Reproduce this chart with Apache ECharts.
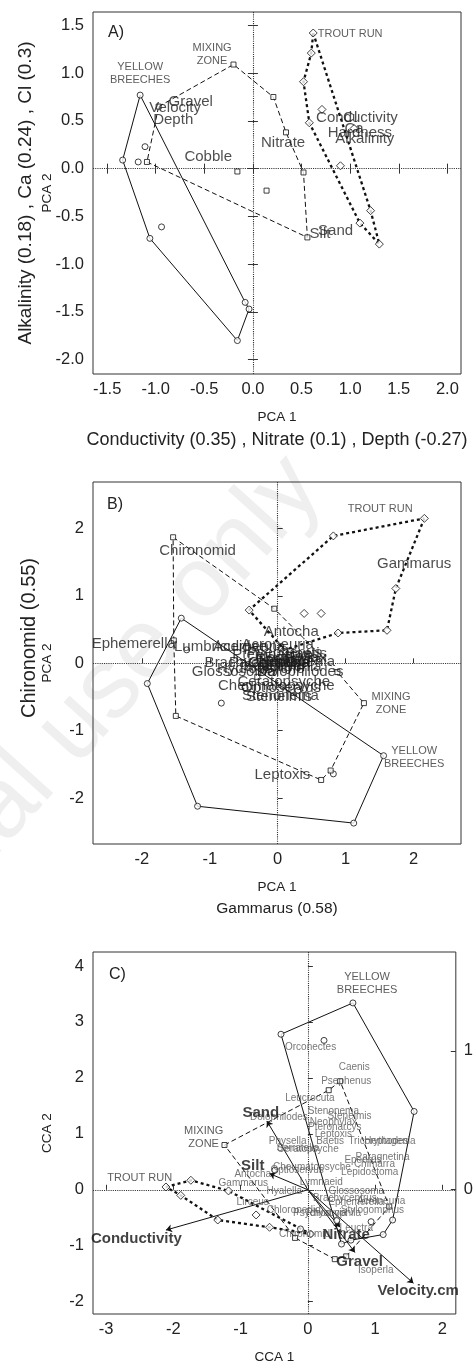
<!DOCTYPE html>
<html><head><meta charset="utf-8">
<script src="https://cdn.jsdelivr.net/npm/echarts@6/dist/echarts.min.js"></script>
<style>html,body{margin:0;padding:0;background:#fff}#c{width:476px;height:1367px}</style>
</head><body><div id="c"></div>
<script>
const FONT = '"Liberation Sans", Arial, Helvetica, sans-serif';

// ---- tick labels ----
const xTicksA = [-1.5,-1.0,-0.5,0,0.5,1.0,1.5,2.0];
const yTicksA = [-2.0,-1.5,-1.0,-0.5,0,0.5,1.0,1.5];
const xTicksB = [-2,-1,0,1,2];
const yTicksB = [-2,-1,0,1,2];
const xTicksC = [-3,-2,-1,0,1,2];
const yTicksC = [-2,-1,0,1,2,3,4];
const yTicksCRight = [0,1];

// ---- Panel A (PCA of environment) ----
const aYBHull = [[-1.16,0.77],[-1.34,0.09],[-1.06,-0.73],[-0.16,-1.80],[-0.04,-1.47],[-0.08,-1.40]];
const aYBInner = [[-1.11,0.23],[-1.18,0.07],[-0.94,-0.61]];
const aMZHull = [[-0.97,0.65],[-0.20,1.09],[0.21,0.75],[0.34,0.38],[0.52,-0.04],[0.56,-0.72],[-1.09,0.07]];
const aMZInner = [[-0.16,-0.03],[0.14,-0.23]];
const aTRHull = [[0.62,1.42],[1.21,-0.44],[1.30,-0.79],[1.10,-0.57],[0.58,0.48],[0.52,0.91],[0.60,1.21]];
const aTRInner = [[0.71,0.62],[0.90,0.03],[1.04,0.42]];
const aVarNames = ['Gravel','Velocity','Depth','Cobble','Nitrate','Conductivity','Cl','Ca','Hardness','Alkalinity','Sand','Silt'];
const aVarPos = [[-0.64,0.70],[-0.80,0.64],[-0.82,0.51],[-0.46,0.12],[0.31,0.27],[1.07,0.53],[1.00,0.53],[1.04,0.42],[1.10,0.37],[1.15,0.31],[0.85,-0.65],[0.69,-0.68]];
const aSiteNames = ['YELLOW\nBREECHES','MIXING\nZONE','TROUT RUN'];
const aSitePos = [[-1.16,1.00],[-0.42,1.20],[1.00,1.405]];

// ---- Panel B (PCA of taxa) ----
const bYBHull = [[-1.42,0.67],[1.56,-1.37],[1.12,-2.37],[-1.18,-2.12],[-1.92,-0.30]];
const bYBInner = [[-0.83,-0.59],[0.82,-1.64],[-1.34,0.20],[-0.48,-0.36],[-0.20,-0.10],[0.30,-0.40]];
const bMZHull = [[-1.54,1.87],[-0.05,0.81],[0.88,-0.13],[1.27,-0.59],[0.78,-1.59],[0.64,-1.73],[-1.50,-0.78],[-1.53,0.34]];
const bMZInner = [[-0.30,-0.20],[0.20,0.05]];
const bTRHull = [[2.16,2.15],[1.74,1.11],[1.61,0.49],[0.89,0.45],[0.10,0.20],[-0.42,0.79],[0.82,1.89]];
const bTRInner = [[0.39,0.74],[0.64,0.74]];
const bSpNames = ['Chironomid','Gammarus','Antocha','Ephemerella','Lumbriculidae','Acerpenna','Acroneuria','Baetis','Brachycentrus','Heptagenia','Epeorus','Paragnetina','Isonychia','Simulium','Tipula','Chimarra','Neophylax','Hydropsyche','Glossosoma','Dolophilodes','Ceratopsyche','Cheumatopsyche','Optioservus','Stenonema','Stenelmis','Leptoxis','Psephenus','Pteronarcys'];
const bSpPos = [[-1.18,1.67],[2.01,1.47],[0.20,0.46],[-2.12,0.29],[-0.84,0.24],[-0.42,0.24],[0.00,0.27],[0.42,0.14],[-0.37,0.01],[0.28,0.02],[0.08,0.05],[-0.12,0.00],[0.18,-0.05],[-0.05,-0.05],[0.35,0.05],[0.02,0.01],[0.20,0.08],[-0.25,-0.08],[-0.65,-0.12],[0.33,-0.12],[0.09,-0.27],[-0.02,-0.33],[0.05,-0.36],[0.04,-0.48],[0.02,-0.50],[0.07,-1.66],[0.10,0.15],[-0.08,0.12]];
const bSiteNames = ['TROUT RUN','MIXING\nZONE','YELLOW\nBREECHES'];
const bSitePos = [[1.51,2.29],[1.67,-0.60],[2.01,-1.40]];

// ---- Panel C (CCA) ----
const cYBHull = [[0.67,3.34],[1.58,1.40],[1.26,-0.54],[1.12,-0.80],[0.64,-0.90],[0.50,-0.97],[-0.40,2.78]];
const cYBInner = [[0.24,2.67],[0.94,-0.57],[-0.11,-0.70],[-0.49,0.35],[0.43,-0.55]];
const cMZHull = [[-1.24,0.80],[0.31,1.78],[0.48,1.94],[1.21,-0.30],[0.57,-1.19],[0.40,-1.24],[-0.19,-0.86]];
const cMZInner = [];
const cTRHull = [[-2.11,0.05],[-1.74,0.17],[-1.18,-0.02],[0.04,-0.79],[-0.57,-0.67],[-1.34,-0.54],[-1.89,-0.10]];
const cTRInner = [[-0.77,-0.45]];
const cEnvNames = ['Conductivity','Velocity.cm','Gravel','Nitrate','Silt','Sand'];
const cEnvTips = [[-2.11,-0.72],[1.57,-1.67],[0.70,-1.12],[0.48,-0.67],[-0.57,0.29],[-0.61,1.23]];
const cEnvLabelPos = [[-2.55,-0.88],[1.64,-1.80],[0.77,-1.28],[0.57,-0.80],[-0.82,0.43],[-0.70,1.37]];
const cSpNames = ['Orconectes','Caenis','Psephenus','Leucrocuta','Stenonema','Stenelmis','Dolophilodes','Neophylax','Pteronarcys','Leptoxis','Baetis','Tricorythodes','Heptagenia','Physella','Serratella','Ceratopsyche','Epeorus','Paragnetina','Chimarra','Lepidostoma','Cheumatopsyche','Optioservus','Antocha','Gammarus','Lymnaeid','Hyalella','Glossosoma','Lirceus','Brachycentrus','Ephemerella','Acroneuria','Chloroperlid','Stylogomphus','Psychomyia','Rhyacophila','Leuctra','Chironomid','Isoperla'];
const cSpPos = [[0.04,2.55],[0.69,2.19],[0.57,1.94],[0.03,1.63],[0.38,1.41],[0.62,1.32],[-0.43,1.30],[0.38,1.21],[0.40,1.11],[0.38,1.00],[0.33,0.86],[1.05,0.86],[1.22,0.86],[-0.30,0.86],[-0.15,0.74],[0.00,0.72],[0.82,0.53],[1.11,0.58],[0.99,0.45],[0.92,0.31],[0.06,0.40],[-0.16,0.35],[-0.82,0.28],[-0.96,0.11],[0.20,0.13],[-0.35,-0.02],[0.72,-0.02],[-0.82,-0.23],[0.55,-0.16],[0.72,-0.23],[1.09,-0.20],[-0.21,-0.36],[0.96,-0.36],[0.18,-0.42],[0.38,-0.42],[0.72,-0.68],[-0.05,-0.80],[1.01,-1.43]];
const cSiteNames = ['YELLOW\nBREECHES','MIXING\nZONE','TROUT RUN'];
const cSitePos = [[0.88,3.68],[-1.55,0.93],[-2.50,0.21]];

// ---------- builders ----------
const AX = [{x:0,y:0},{x:3,y:3},{x:5,y:5}];
const styleYB = {color:'#111', width:1, type:'solid'};
const styleMZ = {color:'#111', width:1, type:[5,3]};
const styleTR = {color:'#111', width:2.3, type:[3,3]};

function hullSeries(p, pts, style, withZero) {
  const s = {type:'line', xAxisIndex:AX[p].x, yAxisIndex:AX[p].y, data: pts.concat([pts[0]]),
    symbol:'none', showSymbol:false, lineStyle:style, silent:true, z:3, animation:false, emphasis:{disabled:true}};
  if (withZero) {
    s.markLine = {silent:true, symbol:['none','none'], animation:false, label:{show:false},
      lineStyle:{type:'dotted', color:'#333', width:1.1}, emphasis:{disabled:true},
      data:[{xAxis:0},{yAxis:0}]};
  }
  return s;
}
function pointSeries(p, pts, symbol, size) {
  return {type:'scatter', xAxisIndex:AX[p].x, yAxisIndex:AX[p].y, data:pts, symbol, symbolSize:size,
    itemStyle:{color:'#fff', borderColor:'#111', borderWidth:1}, z:5, silent:true, animation:false, emphasis:{disabled:true}};
}
function labelSeries(p, names, pos, fontSize, color, weight, lh) {
  return {type:'scatter', xAxisIndex:AX[p].x, yAxisIndex:AX[p].y,
    data:names.map((n,i)=>({name:n, value:pos[i]})), symbol:'circle', symbolSize:1,
    itemStyle:{color:'transparent'}, z:6, silent:true, animation:false, emphasis:{disabled:true},
    label:{show:true, position:'inside', formatter:'{b}', fontSize, color, fontWeight:weight||'normal',
      fontFamily:FONT, lineHeight:lh||fontSize, align:'center', verticalAlign:'middle'}};
}
function xMain(gi, min, max, ticks, fmt, name) {
  return {type:'value', gridIndex:gi, min, max, position:'bottom', splitLine:{show:false}, axisLine:{show:false},
    axisTick:{inside:true, length:5, lineStyle:{color:'#333'}, customValues:ticks},
    axisLabel:{customValues:ticks, formatter:fmt, fontSize:16.5, color:'#222', fontFamily:FONT, margin:7},
    name, nameLocation:'middle', nameGap:36, nameMoveOverlap:false,
    nameTextStyle:{fontSize:13.5, color:'#222', fontFamily:FONT}};
}
function xName(gi, name, gap, size) {
  return {type:'value', gridIndex:gi, position:'bottom', min:0, max:1, axisLine:{show:false}, axisTick:{show:false},
    axisLabel:{show:false}, splitLine:{show:false}, name, nameLocation:'middle', nameGap:gap, nameMoveOverlap:false,
    nameTextStyle:{fontSize:size, color:'#222', fontFamily:FONT}};
}
function yMain(gi, min, max, ticks, fmt, name) {
  return {type:'value', gridIndex:gi, min, max, position:'left', splitLine:{show:false}, axisLine:{show:false},
    axisTick:{inside:true, length:5, lineStyle:{color:'#333'}, customValues:ticks},
    axisLabel:{customValues:ticks, formatter:fmt, fontSize:16.5, color:'#222', fontFamily:FONT, margin:9},
    name, nameLocation:'middle', nameRotate:90, nameGap:39, nameMoveOverlap:false,
    nameTextStyle:{fontSize:13.5, color:'#222', fontFamily:FONT}};
}
function yName(gi, name, gap, size, pad) {
  return {type:'value', gridIndex:gi, position:'left', min:0, max:1, axisLine:{show:false}, axisTick:{show:false},
    axisLabel:{show:false}, splitLine:{show:false}, name, nameLocation:'middle', nameRotate:90, nameGap:gap,
    nameMoveOverlap:false,
    nameTextStyle:{fontSize:size, color:'#222', fontFamily:FONT, padding:pad || 0}};
}
const f1 = v => (Math.abs(v) < 1e-9 ? 0 : v).toFixed(1);
const f0 = v => String(Math.round(v));

const xAxes = [
  xMain(0, -1.645, 2.14, xTicksA, f1, 'PCA 1'),
  xName(0, 'Conductivity (0.35) , Nitrate (0.1) , Depth (-0.27)', 57, 18),
  {type:'value', gridIndex:0, position:'top', min:-1.645, max:2.14, axisLine:{show:false}, splitLine:{show:false},
    axisLabel:{show:false}, axisTick:{inside:true, length:5, lineStyle:{color:'#333'}, customValues:xTicksA}},
  xMain(1, -2.72, 2.70, xTicksB, f0, 'PCA 1'),
  xName(1, 'Gammarus (0.58)', 57, 15.5),
  xMain(2, -3.195, 2.20, xTicksC, f0, 'CCA 1')
];
const yAxes = [
  yMain(0, -2.15, 1.64, yTicksA, f1, 'PCA 2'),
  yName(0, 'Alkalinity (0.18) , Ca (0.24) , Cl (0.3)', 58, 19),
  {type:'value', gridIndex:0, position:'right', min:-2.15, max:1.64, axisLine:{show:false}, splitLine:{show:false},
    axisLabel:{show:false}, axisTick:{inside:true, length:5, lineStyle:{color:'#333'}, customValues:yTicksA}},
  yMain(1, -2.68, 2.69, yTicksB, f0, 'PCA 2'),
  yName(1, 'Chironomid (0.55)', 54, 20, [0,0,0,50]),
  yMain(2, -2.22, 4.25, yTicksC, f0, 'CCA 2'),
  {type:'value', gridIndex:2, position:'right', min:-0.904, max:1.716, axisLine:{show:false}, splitLine:{show:false},
    axisTick:{inside:true, length:5, lineStyle:{color:'#333'}, customValues:yTicksCRight},
    axisLabel:{customValues:yTicksCRight, formatter:f0, fontSize:16.5, color:'#222', fontFamily:FONT, margin:8}}
];

const series = [
  // A
  hullSeries(0, aYBHull, styleYB, true), hullSeries(0, aMZHull, styleMZ), hullSeries(0, aTRHull, styleTR),
  pointSeries(0, aYBHull.concat(aYBInner), 'circle', 6),
  pointSeries(0, aMZHull.concat(aMZInner), 'rect', 5),
  pointSeries(0, aTRHull.concat(aTRInner), 'diamond', 8),
  labelSeries(0, aVarNames, aVarPos, 15, '#222'),
  labelSeries(0, aSiteNames, aSitePos, 11, '#333', 'normal', 13),
  // B
  hullSeries(1, bYBHull, styleYB, true), hullSeries(1, bMZHull, styleMZ), hullSeries(1, bTRHull, styleTR),
  pointSeries(1, bYBHull.concat(bYBInner), 'circle', 6),
  pointSeries(1, bMZHull.concat(bMZInner), 'rect', 5),
  pointSeries(1, bTRHull.concat(bTRInner), 'diamond', 8),
  labelSeries(1, bSpNames, bSpPos, 15, '#1a1a1a'),
  labelSeries(1, bSiteNames, bSitePos, 11, '#333', 'normal', 13),
  // C
  hullSeries(2, cYBHull, styleYB, true), hullSeries(2, cMZHull, styleMZ), hullSeries(2, cTRHull, styleTR),
  {type:'lines', coordinateSystem:'cartesian2d', xAxisIndex:5, yAxisIndex:5, silent:true, animation:false, z:4,
    data: cEnvTips.map(t => ({coords:[[0,0], t]})), symbol:['none','arrow'], symbolSize:[0,6],
    lineStyle:{color:'#111', width:1, opacity:1}},
  pointSeries(2, cYBHull.concat(cYBInner), 'circle', 6),
  pointSeries(2, cMZHull.concat(cMZInner), 'rect', 5),
  pointSeries(2, cTRHull.concat(cTRInner), 'diamond', 8),
  labelSeries(2, cSpNames, cSpPos, 10, '#555'),
  labelSeries(2, cEnvNames, cEnvLabelPos, 15, '#111', 'bold'),
  labelSeries(2, cSiteNames, cSitePos, 11, '#333', 'normal', 13)
];

const chart = echarts.init(document.getElementById('c'), null, {renderer:'canvas'});
chart.setOption({
  animation:false,
  backgroundColor:'#fff',
  textStyle:{fontFamily:FONT},
  title:[
    {text:'A)', left:103, top:20, textStyle:{fontSize:16, fontWeight:'normal', color:'#222', fontFamily:FONT}},
    {text:'B)', left:102, top:492, textStyle:{fontSize:16, fontWeight:'normal', color:'#222', fontFamily:FONT}},
    {text:'C)', left:104, top:962, textStyle:{fontSize:16, fontWeight:'normal', color:'#222', fontFamily:FONT}}
  ],
  graphic:[{type:'text', x:305, y:472, rotation:48*Math.PI/180, z:-10, silent:true,
    style:{text:'Personal use only', font:'100px "Liberation Sans", Arial, sans-serif', fill:'#efefef',
      textAlign:'right', textVerticalAlign:'middle'}}],
  grid:[
    {left:93, right:15, top:12, height:362, show:true, borderColor:'#333', borderWidth:1, backgroundColor:'transparent'},
    {left:93, right:15, top:482, height:362, show:true, borderColor:'#333', borderWidth:1, backgroundColor:'transparent'},
    {left:93, right:15, top:952, height:362, show:true, borderColor:'#333', borderWidth:1, backgroundColor:'transparent'}
  ],
  xAxis:xAxes,
  yAxis:yAxes,
  series
});
</script></body></html>
